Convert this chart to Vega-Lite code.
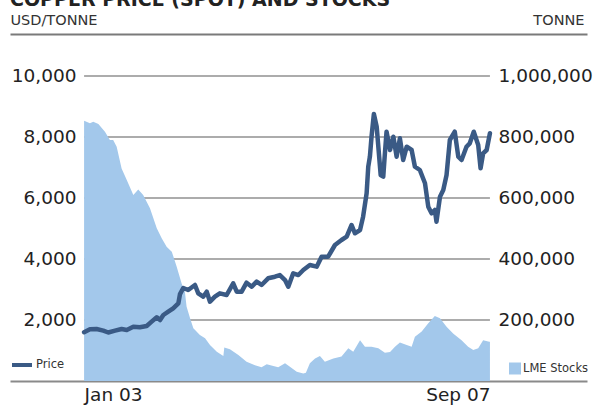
{
  "$schema": "https://vega.github.io/schema/vega-lite/v6.json",
  "width": 577,
  "height": 347,
  "autosize": {"type": "none"},
  "padding": {"left": 10, "top": 34, "right": 9, "bottom": 24},
  "title": {"text": "COPPER PRICE (SPOT) AND STOCKS", "anchor": "start", "frame": "group", "fontSize": 19, "fontWeight": "bold", "color": "#222222", "baseline": "alphabetic", "offset": 2, "dy": 15},
  "datasets": {
    "price": [
      {"date": "2003-01-01", "price": 1600}, {"date": "2003-01-26", "price": 1695}, {"date": "2003-02-23", "price": 1705}, {"date": "2003-03-24", "price": 1650},
      {"date": "2003-04-14", "price": 1590}, {"date": "2003-05-13", "price": 1650}, {"date": "2003-06-10", "price": 1705}, {"date": "2003-07-02", "price": 1672},
      {"date": "2003-07-30", "price": 1780}, {"date": "2003-08-27", "price": 1760}, {"date": "2003-09-25", "price": 1803}, {"date": "2003-10-16", "price": 1945},
      {"date": "2003-11-07", "price": 2088}, {"date": "2003-11-21", "price": 2000}, {"date": "2003-12-05", "price": 2164}, {"date": "2003-12-26", "price": 2272},
      {"date": "2004-01-16", "price": 2384}, {"date": "2004-02-07", "price": 2548}, {"date": "2004-02-14", "price": 2850}, {"date": "2004-02-28", "price": 3050},
      {"date": "2004-03-20", "price": 2984}, {"date": "2004-04-18", "price": 3148}, {"date": "2004-05-02", "price": 2875}, {"date": "2004-05-23", "price": 2764},
      {"date": "2004-06-07", "price": 2928}, {"date": "2004-06-21", "price": 2600}, {"date": "2004-07-12", "price": 2764}, {"date": "2004-08-02", "price": 2875},
      {"date": "2004-08-31", "price": 2820}, {"date": "2004-09-28", "price": 3203}, {"date": "2004-10-13", "price": 2928}, {"date": "2004-11-03", "price": 2928},
      {"date": "2004-11-24", "price": 3223}, {"date": "2004-12-16", "price": 3092}, {"date": "2005-01-06", "price": 3256}, {"date": "2005-01-27", "price": 3148},
      {"date": "2005-02-24", "price": 3367}, {"date": "2005-03-25", "price": 3420}, {"date": "2005-04-15", "price": 3475}, {"date": "2005-05-07", "price": 3311},
      {"date": "2005-05-21", "price": 3092}, {"date": "2005-06-11", "price": 3531}, {"date": "2005-07-03", "price": 3475}, {"date": "2005-07-24", "price": 3639},
      {"date": "2005-08-21", "price": 3803}, {"date": "2005-09-19", "price": 3748}, {"date": "2005-10-10", "price": 4075}, {"date": "2005-11-07", "price": 4075},
      {"date": "2005-12-06", "price": 4459}, {"date": "2006-01-03", "price": 4623}, {"date": "2006-01-25", "price": 4731}, {"date": "2006-02-15", "price": 5115},
      {"date": "2006-03-01", "price": 4843}, {"date": "2006-03-23", "price": 4951}, {"date": "2006-04-05", "price": 5387}, {"date": "2006-04-20", "price": 6154},
      {"date": "2006-04-27", "price": 7026}, {"date": "2006-05-04", "price": 7354}, {"date": "2006-05-11", "price": 8010}, {"date": "2006-05-21", "price": 8754},
      {"date": "2006-06-02", "price": 8338}, {"date": "2006-06-09", "price": 7682}, {"date": "2006-06-19", "price": 6754}, {"date": "2006-06-30", "price": 6699},
      {"date": "2006-07-07", "price": 7465}, {"date": "2006-07-14", "price": 8174}, {"date": "2006-07-29", "price": 7574}, {"date": "2006-08-12", "price": 8010},
      {"date": "2006-08-26", "price": 7354}, {"date": "2006-09-09", "price": 7957}, {"date": "2006-09-23", "price": 7246}, {"date": "2006-10-08", "price": 7682},
      {"date": "2006-10-29", "price": 7574}, {"date": "2006-11-12", "price": 7026}, {"date": "2006-12-03", "price": 6918}, {"date": "2006-12-25", "price": 6482},
      {"date": "2007-01-08", "price": 5715}, {"date": "2007-01-22", "price": 5498}, {"date": "2007-02-05", "price": 5607}, {"date": "2007-02-12", "price": 5223},
      {"date": "2007-02-27", "price": 6043}, {"date": "2007-03-13", "price": 6262}, {"date": "2007-03-27", "price": 6754}, {"date": "2007-04-10", "price": 7902},
      {"date": "2007-05-01", "price": 8174}, {"date": "2007-05-16", "price": 7354}, {"date": "2007-05-30", "price": 7246}, {"date": "2007-06-20", "price": 7682},
      {"date": "2007-07-04", "price": 7793}, {"date": "2007-07-21", "price": 8174}, {"date": "2007-08-09", "price": 7738}, {"date": "2007-08-19", "price": 6973},
      {"date": "2007-08-30", "price": 7465}, {"date": "2007-09-14", "price": 7574}, {"date": "2007-09-28", "price": 8121}
    ],
    "stocks": [
      {"date": "2003-01-01", "stocks": 853000}, {"date": "2003-01-26", "stocks": 845000}, {"date": "2003-02-09", "stocks": 850000}, {"date": "2003-03-03", "stocks": 843000},
      {"date": "2003-03-31", "stocks": 817000}, {"date": "2003-04-21", "stocks": 790000}, {"date": "2003-05-05", "stocks": 790000}, {"date": "2003-05-20", "stocks": 768000},
      {"date": "2003-06-10", "stocks": 697000}, {"date": "2003-07-02", "stocks": 659000}, {"date": "2003-07-30", "stocks": 610000}, {"date": "2003-08-20", "stocks": 628000},
      {"date": "2003-09-10", "stocks": 610000}, {"date": "2003-10-09", "stocks": 566000}, {"date": "2003-11-07", "stocks": 501000}, {"date": "2003-11-28", "stocks": 468000},
      {"date": "2003-12-19", "stocks": 440000}, {"date": "2004-01-10", "stocks": 424000}, {"date": "2004-01-31", "stocks": 375000}, {"date": "2004-02-21", "stocks": 320000},
      {"date": "2004-03-06", "stocks": 293000}, {"date": "2004-03-13", "stocks": 244000}, {"date": "2004-03-28", "stocks": 206000}, {"date": "2004-04-11", "stocks": 173000},
      {"date": "2004-05-09", "stocks": 151000}, {"date": "2004-05-31", "stocks": 140000}, {"date": "2004-06-21", "stocks": 118000}, {"date": "2004-07-20", "stocks": 96000},
      {"date": "2004-08-17", "stocks": 82000}, {"date": "2004-08-21", "stocks": 110000}, {"date": "2004-09-14", "stocks": 104000}, {"date": "2004-10-20", "stocks": 85000},
      {"date": "2004-11-24", "stocks": 63000}, {"date": "2004-12-30", "stocks": 52000}, {"date": "2005-01-27", "stocks": 45000}, {"date": "2005-02-18", "stocks": 55000},
      {"date": "2005-03-18", "stocks": 49000}, {"date": "2005-04-08", "stocks": 45000}, {"date": "2005-05-07", "stocks": 58000}, {"date": "2005-05-28", "stocks": 47000},
      {"date": "2005-06-26", "stocks": 30000}, {"date": "2005-07-24", "stocks": 25000}, {"date": "2005-08-04", "stocks": 27000}, {"date": "2005-08-21", "stocks": 58000},
      {"date": "2005-09-12", "stocks": 74000}, {"date": "2005-10-03", "stocks": 82000}, {"date": "2005-10-24", "stocks": 63000}, {"date": "2005-11-29", "stocks": 74000},
      {"date": "2006-01-03", "stocks": 80000}, {"date": "2006-02-01", "stocks": 107000}, {"date": "2006-02-22", "stocks": 96000}, {"date": "2006-03-23", "stocks": 134000},
      {"date": "2006-04-13", "stocks": 112000}, {"date": "2006-05-11", "stocks": 112000}, {"date": "2006-06-09", "stocks": 107000}, {"date": "2006-07-07", "stocks": 93000},
      {"date": "2006-07-29", "stocks": 95000}, {"date": "2006-08-19", "stocks": 112000}, {"date": "2006-09-09", "stocks": 126000}, {"date": "2006-10-08", "stocks": 118000},
      {"date": "2006-10-29", "stocks": 112000}, {"date": "2006-11-12", "stocks": 145000}, {"date": "2006-12-11", "stocks": 162000}, {"date": "2007-01-08", "stocks": 189000},
      {"date": "2007-02-05", "stocks": 213000}, {"date": "2007-02-27", "stocks": 206000}, {"date": "2007-03-27", "stocks": 178000}, {"date": "2007-04-24", "stocks": 156000},
      {"date": "2007-05-30", "stocks": 134000}, {"date": "2007-06-27", "stocks": 112000}, {"date": "2007-07-19", "stocks": 102000}, {"date": "2007-08-09", "stocks": 107000},
      {"date": "2007-08-30", "stocks": 134000}, {"date": "2007-09-25", "stocks": 129000}, {"date": "2007-09-28", "stocks": 129000}
    ],
    "grid": [{"v": 2000}, {"v": 4000}, {"v": 6000}, {"v": 8000}, {"v": 10000}]
  },
  "layer": [
    {
      "data": {"name": "grid"},
      "mark": {"type": "rule", "stroke": "#5a5a5a", "strokeWidth": 1.2},
      "encoding": {
        "x": {"datum": {"year": 2003, "month": 1, "date": 1}, "type": "temporal", "axis": null,
              "scale": {"domain": [{"year": 2002, "month": 2, "date": 19}, {"year": 2008, "month": 11, "date": 15}]}},
        "x2": {"datum": {"year": 2007, "month": 9, "date": 28}},
        "y": {"field": "v", "type": "quantitative", "axis": null, "scale": {"domain": [0, 11377], "nice": false, "zero": true}}
      }
    },
    {
      "data": {"name": "stocks"},
      "mark": {"type": "area", "opacity": 1, "fillOpacity": 1},
      "encoding": {
        "x": {"field": "date", "type": "temporal",
              "scale": {"domain": [{"year": 2002, "month": 2, "date": 19}, {"year": 2008, "month": 11, "date": 15}]},
              "axis": {"orient": "top", "labels": false, "ticks": false, "grid": false, "domain": true, "domainColor": "#7a7a7a", "domainWidth": 2, "title": null}},
        "y": {"field": "stocks", "type": "quantitative", "scale": {"domain": [0, 1137700], "nice": false, "zero": true},
              "axis": {"orient": "right", "values": [200000, 400000, 600000, 800000, 1000000], "format": ",.0f", "grid": false, "domain": false, "ticks": false, "tickSize": 0,
                       "labelPadding": -89, "labelAlign": "left", "labelBaseline": "middle", "labelFontSize": 18.5, "labelColor": "#222222", "labelOverlap": false, "labelBound": false, "labelFlush": false,
                       "title": "TONNE", "titleAngle": 0, "titleAlign": "right", "titleBaseline": "alphabetic", "titleX": -3, "titleY": -10, "titleFontSize": 14.5, "titleFontWeight": "normal", "titleColor": "#333333"}},
        "fill": {"datum": "LME Stocks", "type": "nominal", "scale": {"range": ["#a3c8eb"]},
                 "legend": {"orient": "none", "legendX": 499, "legendY": 328.5, "title": null, "symbolType": "square", "symbolSize": 144, "symbolStrokeWidth": 0, "labelFontSize": 11.5, "labelOffset": 2, "labelColor": "#333333", "padding": 0}}
      }
    },
    {
      "data": {"name": "price"},
      "mark": {"type": "line", "strokeWidth": 4.5, "strokeJoin": "round", "strokeCap": "round"},
      "encoding": {
        "x": {"field": "date", "type": "temporal",
              "scale": {"domain": [{"year": 2002, "month": 2, "date": 19}, {"year": 2008, "month": 11, "date": 15}]},
              "axis": {"orient": "bottom", "values": [{"year": 2003, "month": 1, "date": 1}, {"year": 2007, "month": 9, "date": 28}], "format": "%b %y",
                       "grid": false, "ticks": false, "tickSize": 0, "domain": true, "domainColor": "#8a8a8a", "domainWidth": 2, "labelPadding": 4,
                       "labelFontSize": 18.5, "labelColor": "#222222", "labelFlush": false, "labelBound": false, "labelOverlap": false,
                       "labelAlign": {"condition": {"test": "datum.value < datetime(2005, 0, 1)", "value": "left"}, "value": "right"}, "title": null}},
        "y": {"field": "price", "type": "quantitative", "scale": {"domain": [0, 11377], "nice": false, "zero": true},
              "axis": {"orient": "left", "values": [2000, 4000, 6000, 8000, 10000], "format": ",.0f", "grid": false, "domain": false, "ticks": false, "tickSize": 0,
                       "labelPadding": -66, "labelAlign": "right", "labelBaseline": "middle", "labelFontSize": 18.5, "labelColor": "#222222", "labelOverlap": false, "labelBound": false, "labelFlush": false,
                       "title": "USD/TONNE", "titleAngle": 0, "titleAlign": "left", "titleBaseline": "alphabetic", "titleX": 0, "titleY": -10, "titleFontSize": 14.5, "titleFontWeight": "normal", "titleColor": "#333333"}},
        "stroke": {"datum": "Price", "type": "nominal", "scale": {"range": ["#3a5a85"]},
                   "legend": {"orient": "none", "legendX": 0, "legendY": 319, "title": null, "symbolType": "stroke", "symbolSize": 400, "symbolStrokeWidth": 4, "labelFontSize": 11.5, "labelOffset": 2, "labelColor": "#333333", "padding": 0}}
      }
    }
  ],
  "resolve": {"scale": {"y": "independent"}, "axis": {"x": "independent"}},
  "config": {"view": {"stroke": null}, "font": "DejaVu Sans"}
}
